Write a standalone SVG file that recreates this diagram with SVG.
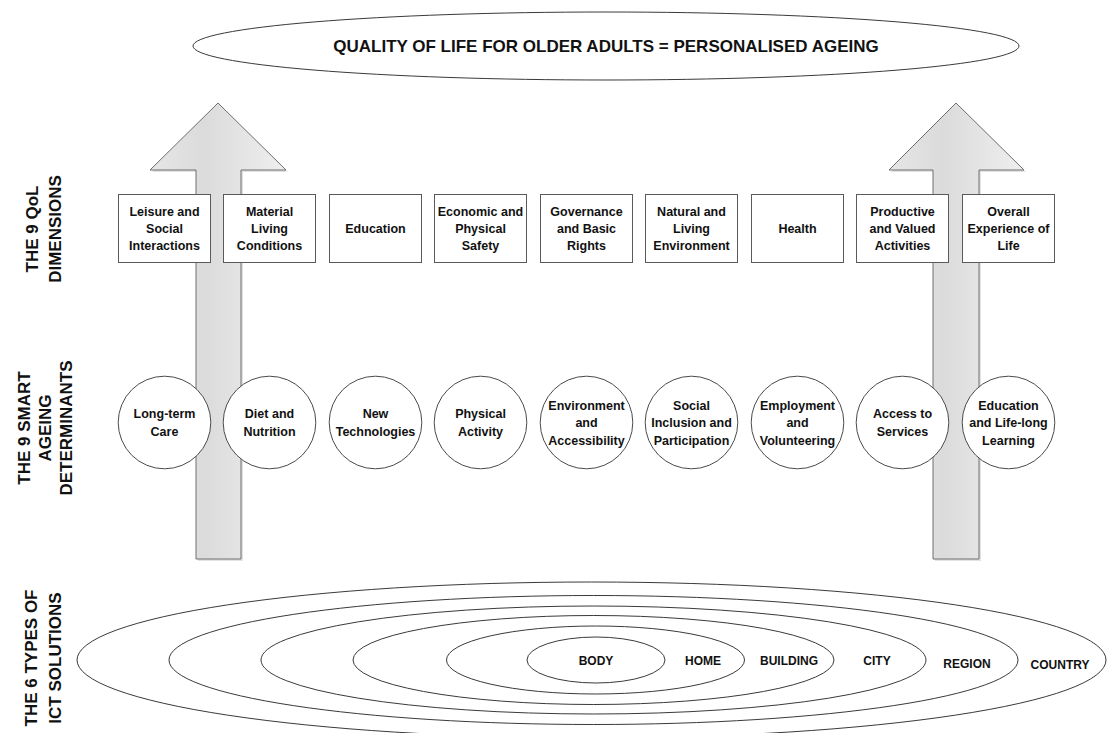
<svg xmlns="http://www.w3.org/2000/svg" width="1110" height="733" viewBox="0 0 1110 733">
  <defs>
    <linearGradient id="arrowFill" x1="0" y1="0" x2="1" y2="0">
      <stop offset="0" stop-color="#e6e6e6"/>
      <stop offset="0.4" stop-color="#dbdbdb"/>
      <stop offset="1" stop-color="#efefef"/>
    </linearGradient>
  </defs>
  <style>
    text { font-family: "Liberation Sans", Arial, sans-serif; font-weight: bold; fill: #111; }
    .box { fill: #ffffff; stroke: #5a5a5a; stroke-width: 1; }
    .circ { fill: #ffffff; stroke: #4a4a4a; stroke-width: 1; }
    .ring { fill: none; stroke: #3a3a3a; stroke-width: 1; }
    .lbl { font-size: 12.5px; text-anchor: middle; }
    .ict { font-size: 12px; text-anchor: middle; }
    .side { font-size: 17px; text-anchor: middle; }
    .title { font-size: 17px; text-anchor: middle; }
    .arrow { fill: url(#arrowFill); stroke: #6e6e6e; stroke-width: 1; }
    .arrowShadow { fill: #cfcfcf; opacity: 0.6; }
  </style>
  <rect width="1110" height="733" fill="#ffffff"/>

  <!-- Row headings -->
  <g id="heading-qol">
    <text class="side" transform="translate(38,229) rotate(-90)">THE 9 QoL</text>
    <text class="side" transform="translate(61,229) rotate(-90)">DIMENSIONS</text>
  </g>
  <g id="heading-determinants">
    <text class="side" transform="translate(30,428) rotate(-90)">THE 9 SMART</text>
    <text class="side" transform="translate(51,428) rotate(-90)">AGEING</text>
    <text class="side" transform="translate(72,428) rotate(-90)">DETERMINANTS</text>
  </g>
  <g id="heading-ict">
    <text class="side" transform="translate(37,658) rotate(-90)">THE 6 TYPES OF</text>
    <text class="side" transform="translate(61,658) rotate(-90)">ICT SOLUTIONS</text>
  </g>

  <!-- Goal ellipse -->
  <g id="goal">
    <ellipse cx="606" cy="46" rx="413" ry="34" fill="#ffffff" stroke="#3a3a3a" stroke-width="1"/>
    <text class="title" x="606" y="52">QUALITY OF LIFE FOR OLDER ADULTS = PERSONALISED AGEING</text>
  </g>

  <!-- Upward block arrows -->
  <g id="connectors">
    <path class="arrowShadow" d="M220,105 L288,172 L243,172 L243,561 L198,561 L198,172 L152,172 Z"/>
    <path class="arrow" d="M218,103 L286,170 L241,170 L241,559 L196,559 L196,170 L150,170 Z"/>
    <path class="arrowShadow" d="M958,105 L1026,172 L981,172 L981,561 L935,561 L935,172 L891,172 Z"/>
    <path class="arrow" d="M956,103 L1024,170 L979,170 L979,559 L933,559 L933,170 L889,170 Z"/>
  </g>

  <!-- QoL dimensions -->
  <g id="dim-leisure">
    <rect class="box" x="118.5" y="194.5" width="92" height="68"/>
    <text class="lbl" x="164.5" y="216">Leisure and</text>
    <text class="lbl" x="164.5" y="232.8">Social</text>
    <text class="lbl" x="164.5" y="249.5">Interactions</text>
  </g>
  <g id="dim-material">
    <rect class="box" x="223.5" y="194.5" width="92" height="68"/>
    <text class="lbl" x="269.5" y="216">Material</text>
    <text class="lbl" x="269.5" y="232.8">Living</text>
    <text class="lbl" x="269.5" y="249.5">Conditions</text>
  </g>
  <g id="dim-education">
    <rect class="box" x="329.5" y="194.5" width="92" height="68"/>
    <text class="lbl" x="375.5" y="232.8">Education</text>
  </g>
  <g id="dim-safety">
    <rect class="box" x="434.5" y="194.5" width="92" height="68"/>
    <text class="lbl" x="480.5" y="216">Economic and</text>
    <text class="lbl" x="480.5" y="232.8">Physical</text>
    <text class="lbl" x="480.5" y="249.5">Safety</text>
  </g>
  <g id="dim-governance">
    <rect class="box" x="540.5" y="194.5" width="92" height="68"/>
    <text class="lbl" x="586.5" y="216">Governance</text>
    <text class="lbl" x="586.5" y="232.8">and Basic</text>
    <text class="lbl" x="586.5" y="249.5">Rights</text>
  </g>
  <g id="dim-environment">
    <rect class="box" x="645.5" y="194.5" width="92" height="68"/>
    <text class="lbl" x="691.5" y="216">Natural and</text>
    <text class="lbl" x="691.5" y="232.8">Living</text>
    <text class="lbl" x="691.5" y="249.5">Environment</text>
  </g>
  <g id="dim-health">
    <rect class="box" x="751.5" y="194.5" width="92" height="68"/>
    <text class="lbl" x="797.5" y="232.8">Health</text>
  </g>
  <g id="dim-activities">
    <rect class="box" x="856.5" y="194.5" width="92" height="68"/>
    <text class="lbl" x="902.5" y="216">Productive</text>
    <text class="lbl" x="902.5" y="232.8">and Valued</text>
    <text class="lbl" x="902.5" y="249.5">Activities</text>
  </g>
  <g id="dim-experience">
    <rect class="box" x="962.5" y="194.5" width="92" height="68"/>
    <text class="lbl" x="1008.5" y="216">Overall</text>
    <text class="lbl" x="1008.5" y="232.8">Experience of</text>
    <text class="lbl" x="1008.5" y="249.5">Life</text>
  </g>

  <!-- Smart ageing determinants -->
  <g id="det-care">
    <circle class="circ" cx="164.5" cy="422.5" r="46.3"/>
    <text class="lbl" x="164.5" y="418.2">Long-term</text>
    <text class="lbl" x="164.5" y="435.7">Care</text>
  </g>
  <g id="det-diet">
    <circle class="circ" cx="269.5" cy="422.5" r="46.3"/>
    <text class="lbl" x="269.5" y="418.2">Diet and</text>
    <text class="lbl" x="269.5" y="435.7">Nutrition</text>
  </g>
  <g id="det-technologies">
    <circle class="circ" cx="375.5" cy="422.5" r="46.3"/>
    <text class="lbl" x="375.5" y="418.2">New</text>
    <text class="lbl" x="375.5" y="435.7">Technologies</text>
  </g>
  <g id="det-activity">
    <circle class="circ" cx="480.5" cy="422.5" r="46.3"/>
    <text class="lbl" x="480.5" y="418.2">Physical</text>
    <text class="lbl" x="480.5" y="435.7">Activity</text>
  </g>
  <g id="det-accessibility">
    <circle class="circ" cx="586.5" cy="422.5" r="46.3"/>
    <text class="lbl" x="586.5" y="409.5">Environment</text>
    <text class="lbl" x="586.5" y="427">and</text>
    <text class="lbl" x="586.5" y="444.5">Accessibility</text>
  </g>
  <g id="det-inclusion">
    <circle class="circ" cx="691.5" cy="422.5" r="46.3"/>
    <text class="lbl" x="691.5" y="409.5">Social</text>
    <text class="lbl" x="691.5" y="427">Inclusion and</text>
    <text class="lbl" x="691.5" y="444.5">Participation</text>
  </g>
  <g id="det-employment">
    <circle class="circ" cx="797.5" cy="422.5" r="46.3"/>
    <text class="lbl" x="797.5" y="409.5">Employment</text>
    <text class="lbl" x="797.5" y="427">and</text>
    <text class="lbl" x="797.5" y="444.5">Volunteering</text>
  </g>
  <g id="det-services">
    <circle class="circ" cx="902.5" cy="422.5" r="46.3"/>
    <text class="lbl" x="902.5" y="418.2">Access to</text>
    <text class="lbl" x="902.5" y="435.7">Services</text>
  </g>
  <g id="det-learning">
    <circle class="circ" cx="1008.5" cy="422.5" r="46.3"/>
    <text class="lbl" x="1008.5" y="409.5">Education</text>
    <text class="lbl" x="1008.5" y="427">and Life-long</text>
    <text class="lbl" x="1008.5" y="444.5">Learning</text>
  </g>

  <!-- Nested ICT solution scales -->
  <g id="ict-country">
    <ellipse class="ring" cx="591.5" cy="660" rx="514.5" ry="78"/>
    <text class="ict" x="1060" y="669">COUNTRY</text>
  </g>
  <g id="ict-region">
    <ellipse class="ring" cx="593.5" cy="660" rx="424.5" ry="64.5"/>
    <text class="ict" x="967" y="667.5">REGION</text>
  </g>
  <g id="ict-city">
    <ellipse class="ring" cx="593.5" cy="660" rx="332.5" ry="54"/>
    <text class="ict" x="877" y="664.5">CITY</text>
  </g>
  <g id="ict-building">
    <ellipse class="ring" cx="593.5" cy="660" rx="240.5" ry="44.5"/>
    <text class="ict" x="789" y="664.5">BUILDING</text>
  </g>
  <g id="ict-home">
    <ellipse class="ring" cx="595.5" cy="660" rx="149" ry="34"/>
    <text class="ict" x="703" y="664.5">HOME</text>
  </g>
  <g id="ict-body">
    <ellipse class="ring" cx="596" cy="660" rx="69" ry="23"/>
    <text class="ict" x="596" y="664.5">BODY</text>
  </g>
</svg>
